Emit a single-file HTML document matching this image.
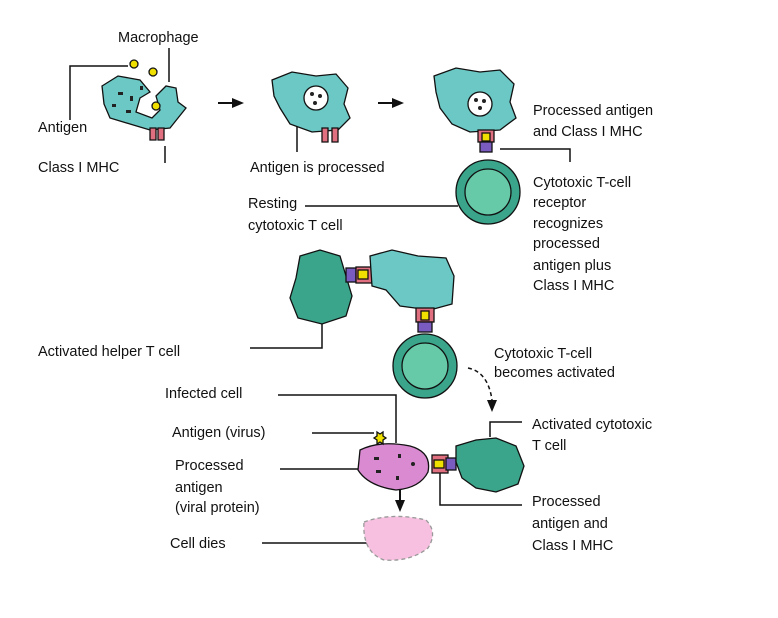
<!DOCTYPE html>
<html><head><meta charset="utf-8"><style>
html,body{margin:0;padding:0;background:#fff;}
svg{display:block;}
text{font-family:"Liberation Sans",sans-serif;font-size:14.5px;fill:#111;}
</style></head><body>
<svg width="778" height="618" viewBox="0 0 778 618">
<g stroke="#111" stroke-width="1.5" fill="none">
<polyline points="70,120 70,66 128,66"/>
<line x1="169" y1="48" x2="169" y2="82"/>
<line x1="165" y1="146" x2="165" y2="163"/>
<line x1="297" y1="100" x2="297" y2="152"/>
<line x1="305" y1="206" x2="458" y2="206"/>
<polyline points="500,149 570,149 570,162"/>
<polyline points="322,320 322,348 250,348"/>
<polyline points="278,395 396,395 396,443"/>
<line x1="312" y1="433" x2="374" y2="433"/>
<line x1="280" y1="469" x2="362" y2="469"/>
<polyline points="490,437 490,422 522,422"/>
<polyline points="440,472 440,505 522,505"/>
<line x1="262" y1="543" x2="378" y2="543"/>
</g>
<g>
<line x1="218" y1="103" x2="234" y2="103" stroke="#111" stroke-width="2"/><polygon points="232,98 244,103 232,108" fill="#111"/>
<line x1="378" y1="103" x2="394" y2="103" stroke="#111" stroke-width="2"/><polygon points="392,98 404,103 392,108" fill="#111"/>
<path d="M468,368 Q488,372 492,400" stroke="#111" stroke-width="1.5" fill="none" stroke-dasharray="4,3"/><polygon points="487,400 497,400 492,412" fill="#111"/>
<line x1="400" y1="488" x2="400" y2="502" stroke="#111" stroke-width="2"/><polygon points="395,500 405,500 400,512" fill="#111"/>
</g>
<g stroke="#111" stroke-width="1.3">
<path d="M102,86 L118,76 L140,80 L150,92 L140,98 L136,112 L152,118 L160,110 L156,96 L166,86 L176,88 L178,102 L186,108 L178,118 L170,128 L150,130 L130,124 L110,118 L104,104 Z" fill="#6cc8c4"/>
<path d="M150,128 h6 v12 h-6z M158,128 h6 v12 h-6z" fill="#e07080"/>
<g fill="#222" stroke="none"><rect x="118" y="92" width="5" height="3"/><rect x="130" y="96" width="3" height="5"/><rect x="112" y="104" width="4" height="3"/><rect x="126" y="110" width="5" height="3"/><rect x="140" y="86" width="3" height="4"/></g>
<circle cx="134" cy="64" r="4" fill="#f0e000"/><circle cx="153" cy="72" r="4" fill="#f0e000"/><circle cx="156" cy="106" r="4" fill="#f0e000"/>
<path d="M272,80 L292,72 L316,76 L336,74 L348,88 L344,104 L350,118 L338,130 L312,132 L290,124 L280,108 L274,96 Z" fill="#6cc8c4"/>
<circle cx="316" cy="98" r="12" fill="#fff"/>
<g fill="#222" stroke="none"><circle cx="312" cy="94" r="2"/><circle cx="320" cy="96" r="2"/><circle cx="315" cy="103" r="2"/></g>
<path d="M322,128 h6 v14 h-6z M332,128 h6 v14 h-6z" fill="#e07080"/>
<path d="M434,76 L456,68 L480,72 L500,70 L514,84 L510,102 L516,118 L500,130 L470,132 L452,124 L440,108 L436,92 Z" fill="#6cc8c4"/>
<circle cx="480" cy="104" r="12" fill="#fff"/>
<g fill="#222" stroke="none"><circle cx="476" cy="100" r="2"/><circle cx="484" cy="101" r="2"/><circle cx="480" cy="108" r="2"/></g>
<rect x="478" y="130" width="16" height="12" fill="#e07080"/><rect x="482" y="133" width="8" height="8" fill="#f0e000"/>
<rect x="480" y="142" width="12" height="10" fill="#7a5cc0"/>
<circle cx="488" cy="192" r="32" fill="#3aa58a"/><circle cx="488" cy="192" r="23" fill="#66c9a8"/>
<path d="M300,256 L320,250 L340,256 L346,276 L352,296 L346,316 L322,324 L298,318 L290,298 L296,278 Z" fill="#3aa58a"/>
<rect x="346" y="268" width="10" height="14" fill="#7a5cc0"/><rect x="356" y="267" width="16" height="16" fill="#e07080"/><rect x="358" y="270" width="10" height="9" fill="#f0e000"/>
<path d="M370,256 L392,250 L418,256 L446,258 L454,276 L452,304 L430,310 L400,306 L386,290 L372,286 Z" fill="#6cc8c4"/>
<rect x="416" y="308" width="18" height="14" fill="#e07080"/><rect x="421" y="311" width="8" height="9" fill="#f0e000"/>
<rect x="418" y="322" width="14" height="10" fill="#7a5cc0"/>
<circle cx="425" cy="366" r="32" fill="#3aa58a"/><circle cx="425" cy="366" r="23" fill="#66c9a8"/>
<path d="M360,450 Q380,440 410,446 Q432,452 428,472 Q420,488 396,490 Q368,486 358,470 Z" fill="#d98ad0"/>
<g fill="#222" stroke="none"><rect x="374" y="457" width="5" height="3"/><rect x="398" y="454" width="3" height="4"/><rect x="376" y="470" width="5" height="3"/><rect x="396" y="476" width="3" height="4"/><circle cx="413" cy="464" r="2"/></g>
<path d="M377,432 l3,2 l3,-2 l0,4 l3,2 l-3,2 l0,4 l-3,-2 l-3,2 l0,-4 l-3,-2 l3,-2z" fill="#f0e000"/>
<rect x="432" y="455" width="16" height="18" fill="#e07080"/><rect x="434" y="460" width="10" height="8" fill="#f0e000"/>
<rect x="446" y="458" width="10" height="12" fill="#7a5cc0"/>
<path d="M456,446 L476,440 L496,438 L516,446 L524,466 L518,484 L496,492 L476,488 L462,478 L456,462 Z" fill="#3aa58a"/>
<path d="M364,522 Q392,512 426,520 Q438,532 428,548 Q410,562 384,560 Q362,552 364,522 Z" fill="#f8c0e0" stroke-dasharray="4,3" stroke="#999"/>
</g>
<g>
<text x="118" y="42">Macrophage</text>
<text x="38" y="132">Antigen</text>
<text x="38" y="172">Class I MHC</text>
<text x="250" y="172">Antigen is processed</text>
<text x="248" y="208">Resting</text>
<text x="248" y="230">cytotoxic T cell</text>
<text x="533" y="115">Processed antigen</text>
<text x="533" y="136">and Class I MHC</text>
<text x="533" y="187">Cytotoxic T-cell</text>
<text x="533" y="207">receptor</text>
<text x="533" y="228">recognizes</text>
<text x="533" y="248">processed</text>
<text x="533" y="270">antigen plus</text>
<text x="533" y="290">Class I MHC</text>
<text x="38" y="356">Activated helper T cell</text>
<text x="494" y="358">Cytotoxic T-cell</text>
<text x="494" y="377">becomes activated</text>
<text x="165" y="398">Infected cell</text>
<text x="172" y="437">Antigen (virus)</text>
<text x="175" y="470">Processed</text>
<text x="175" y="492">antigen</text>
<text x="175" y="512">(viral protein)</text>
<text x="532" y="429">Activated cytotoxic</text>
<text x="532" y="450">T cell</text>
<text x="532" y="506">Processed</text>
<text x="532" y="528">antigen and</text>
<text x="532" y="550">Class I MHC</text>
<text x="170" y="548">Cell dies</text>
</g>
</svg>
</body></html>
